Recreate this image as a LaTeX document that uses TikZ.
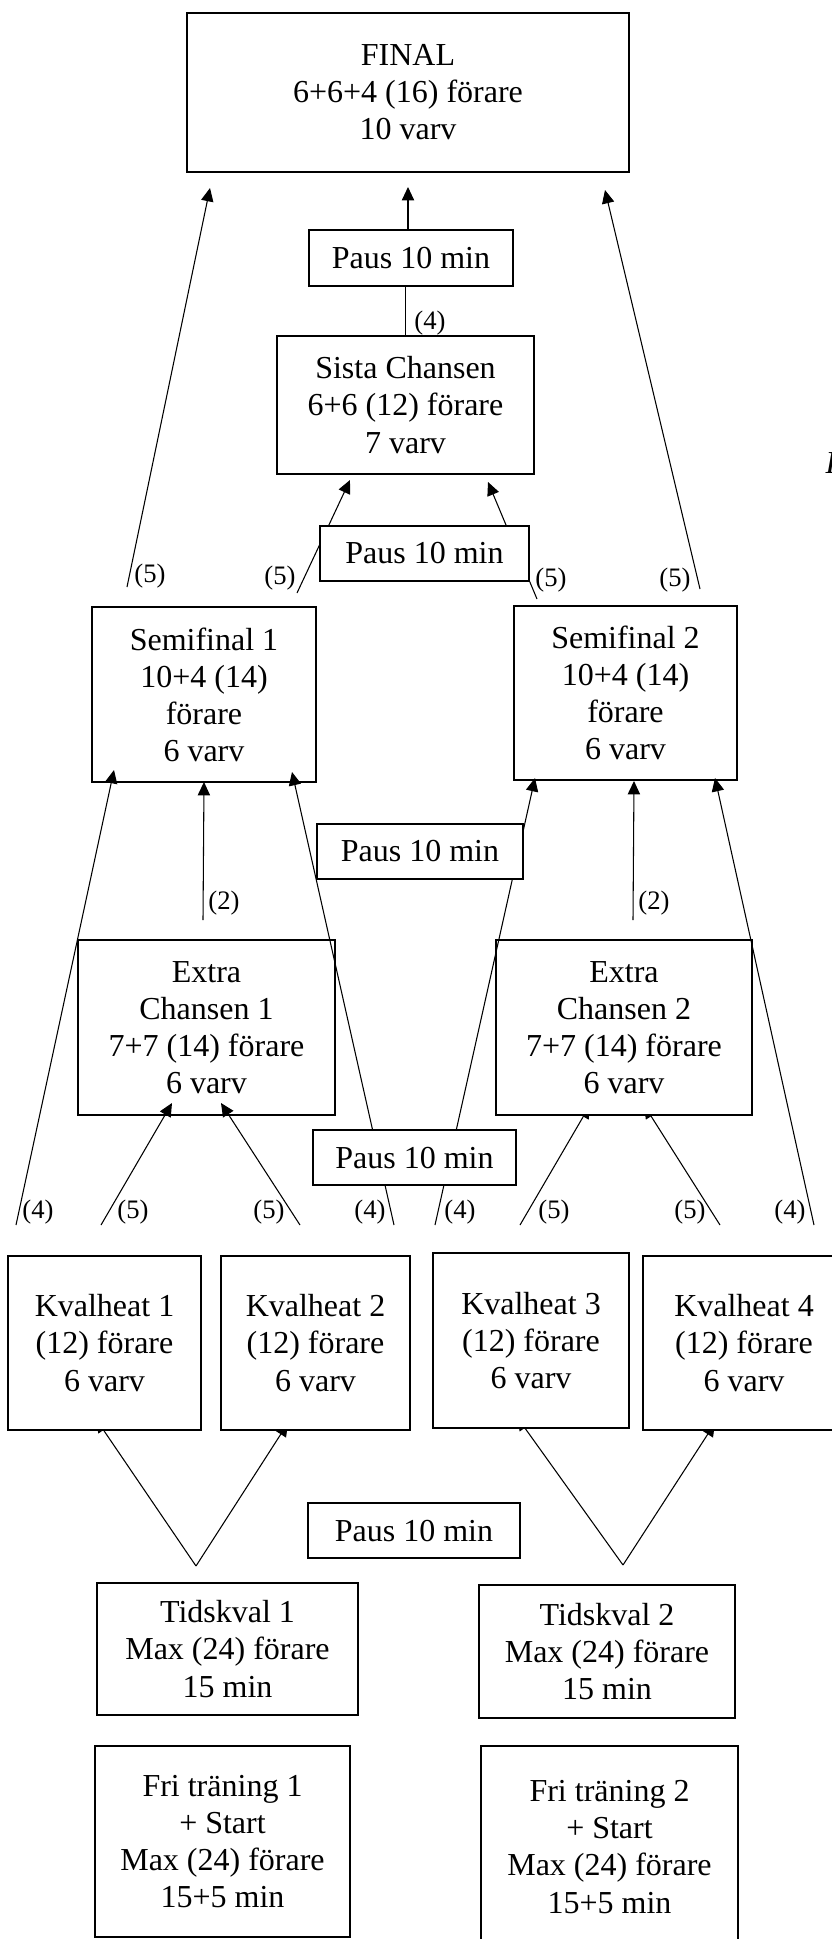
\documentclass[tikz,border=0pt]{standalone}
\usepackage{fontspec}
\setmainfont{Liberation Serif}
\usetikzlibrary{arrows.meta}
\pgfdeclarelayer{bg}
\pgfdeclarelayer{over}
\pgfdeclarelayer{top}
\pgfsetlayers{bg,main,over,top}
\newcommand\boxnode[6]{\node[stage, minimum width={(#4-#2)*0.375pt}, minimum height={(#5-#3)*0.375pt}] (#1) at ({(#2+#4)/2},{(#3+#5)/2}) {#6};}
\begin{document}
\begin{tikzpicture}[x=0.375pt,y=-0.375pt,
  stage/.style={draw, line width=0.8pt, fill=white, inner sep=0pt, align=center, font=\fontsize{12}{13.9}\selectfont},
  lbl/.style={inner sep=0pt, font=\fontsize{10}{12}\selectfont},
  conn/.style={line width=0.4pt},
  arr/.style={conn, -{Triangle[length=5pt,width=4.6pt]}}]
\useasboundingbox (0,0) rectangle (832,1939);

% stage boxes
\boxnode{final}{187}{13}{629}{172}{FINAL\\6+6+4 (16) förare\\10 varv}
\boxnode{sc}{277}{336}{534}{474}{Sista Chansen\\6+6 (12) förare\\7 varv}
\boxnode{sf1}{92}{607}{316}{782}{Semifinal 1\\10+4 (14)\\förare\\6 varv}
\boxnode{sf2}{514}{606}{737}{780}{Semifinal 2\\10+4 (14)\\förare\\6 varv}
\boxnode{ec1}{78}{940}{335}{1115}{Extra\\Chansen 1\\7+7 (14) förare\\6 varv}
\boxnode{ec2}{496}{940}{752}{1115}{Extra\\Chansen 2\\7+7 (14) förare\\6 varv}
\boxnode{kh1}{8}{1256}{201}{1430}{Kvalheat 1\\(12) förare\\6 varv}
\boxnode{kh2}{221}{1256}{410}{1430}{Kvalheat 2\\(12) förare\\6 varv}
\boxnode{kh3}{433}{1253}{629}{1428}{Kvalheat 3\\(12) förare\\6 varv}
\boxnode{kh4}{643}{1256}{845}{1430}{Kvalheat 4\\(12) förare\\6 varv}
\boxnode{tk1}{97}{1583}{358}{1715}{Tidskval 1\\Max (24) förare\\15 min}
\boxnode{tk2}{479}{1585}{735}{1718}{Tidskval 2\\Max (24) förare\\15 min}
\boxnode{ft1}{95}{1746}{350}{1937}{Fri träning 1\\+ Start\\Max (24) förare\\15+5 min}
\boxnode{ft2}{481}{1746}{738}{1948}{Fri träning 2\\+ Start\\Max (24) förare\\15+5 min}

% pause boxes (on top of the lines)
\begin{pgfonlayer}{top}
\boxnode{p1}{309}{230}{513}{286}{Paus 10 min}
\boxnode{p2}{320}{526}{529}{581}{Paus 10 min}
\boxnode{p3}{317}{824}{523}{879}{Paus 10 min}
\boxnode{p4}{313}{1130}{516}{1185}{Paus 10 min}
\boxnode{p5}{308}{1503}{520}{1558}{Paus 10 min}
\end{pgfonlayer}

% labels
\node[lbl] (l1) at (430,323) {(4)};
\node[lbl] (l2) at (150,576) {(5)};
\node[lbl] (l3) at (280,578) {(5)};
\node[lbl] (l4) at (551,580) {(5)};
\node[lbl] (l5) at (675,580) {(5)};
\node[lbl] (l6) at (224,903) {(2)};
\node[lbl] (l7) at (654,903) {(2)};
\node[lbl] (l8) at (38,1212) {(4)};
\node[lbl] (l9) at (133,1212) {(5)};
\node[lbl] (l10) at (269,1212) {(5)};
\node[lbl] (l11) at (370,1212) {(4)};
\node[lbl] (l12) at (460,1212) {(4)};
\node[lbl] (l13) at (554,1212) {(5)};
\node[lbl] (l14) at (690,1212) {(5)};
\node[lbl] (l15) at (790,1212) {(4)};
\node[anchor=base west, inner sep=0pt, font=\fontsize{12}{13.9}\selectfont\itshape] (cut) at (825,473) {F};

% free ends
\coordinate (fa) at (408,187);
\coordinate (la0) at (127,587);  \coordinate (la1) at (210,188);
\coordinate (ra0) at (700,589);  \coordinate (ra1) at (605,190);
\coordinate (sl0) at (297,593);  \coordinate (sl1) at (350,480);
\coordinate (sr0) at (537,599);  \coordinate (sr1) at (488,482);
\coordinate (a0) at (16,1225);   \coordinate (a1) at (114,770);
\coordinate (b0) at (203,920);   \coordinate (b1) at (204,782);
\coordinate (c0) at (394,1225);  \coordinate (c1) at (292,772);
\coordinate (d0) at (435,1225);  \coordinate (d1) at (535,778);
\coordinate (e0) at (633,920);   \coordinate (e1) at (634,781);
\coordinate (f0) at (814,1225);  \coordinate (f1) at (715,778);
\coordinate (g0) at (101,1225);  \coordinate (g1) at (172,1103);
\coordinate (h0) at (300,1225);  \coordinate (h1) at (221,1103);
\coordinate (i0) at (520,1225);  \coordinate (i1) at (590,1105);
\coordinate (j0) at (720,1225);  \coordinate (j1) at (644,1105);
\coordinate (v1) at (196,1566);  \coordinate (v2) at (623,1565);
\coordinate (k1) at (96,1419);   \coordinate (k2) at (288,1423);
\coordinate (k3) at (517,1417);  \coordinate (k4) at (715,1423);

% connectors hidden behind the boxes
\begin{pgfonlayer}{bg}
\draw[arr] (i0) -- (i1);
\draw[arr] (j0) -- (j1);
\draw[arr] (v1) -- (k1);
\draw[arr] (v1) -- (k2);
\draw[arr] (v2) -- (k3);
\draw[arr] (v2) -- (k4);
\end{pgfonlayer}

% connectors over the stage boxes, under the pause boxes
\begin{pgfonlayer}{over}
\draw[arr] (p1.north -| fa) -- (fa);
\draw[conn] (sc.north) -- (sc.north |- p1.south);
\draw[arr] (la0) -- (la1);
\draw[arr] (ra0) -- (ra1);
\draw[arr] (sl0) -- (sl1);
\draw[arr] (sr0) -- (sr1);
\draw[arr] (a0) -- (a1);
\draw[arr] (b0) -- (b1);
\draw[arr] (c0) -- (c1);
\draw[arr] (d0) -- (d1);
\draw[arr] (e0) -- (e1);
\draw[arr] (f0) -- (f1);
\draw[arr] (g0) -- (g1);
\draw[arr] (h0) -- (h1);
\end{pgfonlayer}
\end{tikzpicture}
\end{document}
